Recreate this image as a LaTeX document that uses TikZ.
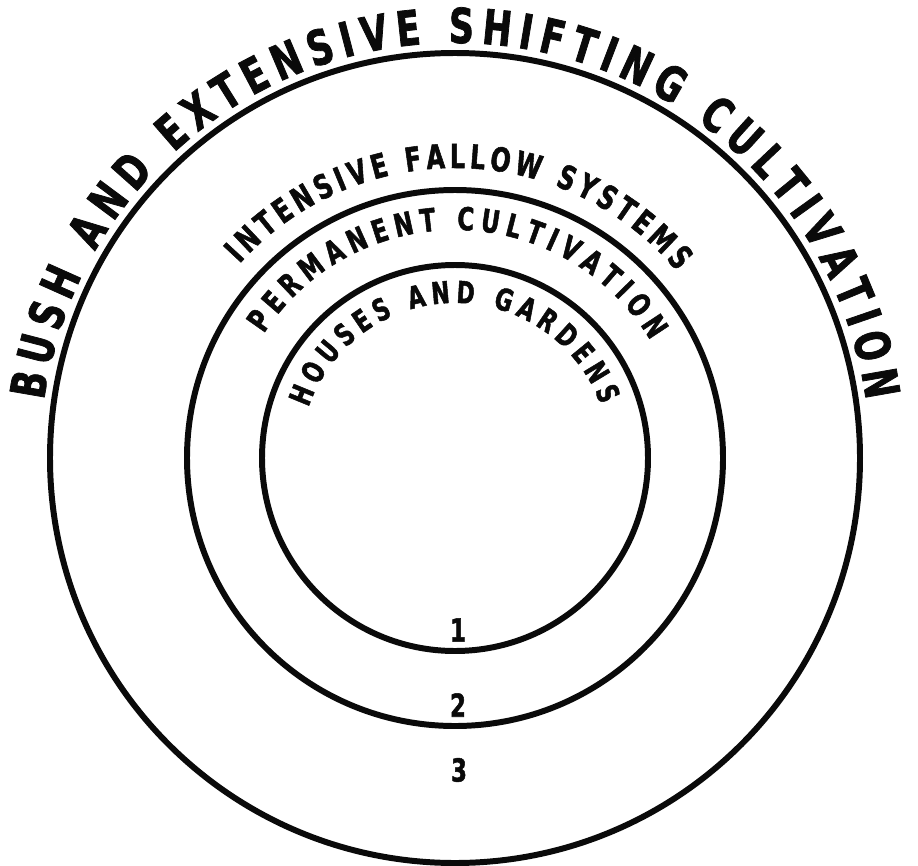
\documentclass[tikz,border=0pt]{standalone}
\usepackage{fontspec}
\newfontfamily\letterfont[FakeStretch=0.72, FakeBold=1.6]{DejaVu Sans Bold}
\usetikzlibrary{decorations.text}

% lettering sizes, cap heights
\newcommand\outerface{\letterfont\fontsize{13.7pt}{14pt}\selectfont}
\newcommand\fallowface{\letterfont\fontsize{9.4pt}{10pt}\selectfont}
\newcommand\permface{\letterfont\fontsize{9pt}{10pt}\selectfont}
\newcommand\houseface{\letterfont\fontsize{8.6pt}{9pt}\selectfont}

\begin{document}
\begin{tikzpicture}[
    every node/.style={font=\letterfont},
]

% ---------------------------------------------------------------- colours
\definecolor{ink}{HTML}{0A0A0A}   % all lines and lettering

% ---------------------------------------------------------------- styles
\tikzset{
    ring/.style={draw=ink, line width=1.7pt},
    ringtext/.style={
        decorate,
        decoration={text along path, text={#1}, text color=ink,
                    text align=fit to path},
    },
    zonenum/.style={
        font=\letterfont\fontsize{9pt}{9pt}\selectfont,
        text=ink, inner sep=0pt,
    },
}

% ================================================================
% GEOMETRY
%   centre          (4.55, 4.07)
%   rings           r = 1.93 / 2.68 / 4.05
%   text baselines  r = 1.55 (inside 1), 2.28 (inside 2),
%                   2.90 (outside 2), 4.15 (outside 3)
%   zone numbers    on the vertical through the centre
% ================================================================

\useasboundingbox (0, 0) rectangle (9.18, 8.65);
\coordinate (c) at (4.55, 4.07);

% ---------------------------------------------------------------- the rings
\draw[ring] (c) circle[radius=1.93];
\draw[ring] (c) circle[radius=2.68];
\draw[ring] (c) circle[radius=4.05];

% ---------------------------------------------------------------- lettering
% paths run clockwise, so the letters stand on the outer side
\path[ringtext={|\outerface|BUSH AND EXTENSIVE SHIFTING CULTIVATION}]
    ([shift={(172:4.15)}]c) arc[start angle=172, end angle=8, radius=4.15];

\path[ringtext={|\fallowface|INTENSIVE FALLOW SYSTEMS}]
    ([shift={(138:2.90)}]c) arc[start angle=138, end angle=40, radius=2.90];

\path[ringtext={|\permface|PERMANENT CULTIVATION}]
    ([shift={(147:2.28)}]c) arc[start angle=147, end angle=31, radius=2.28];

\path[ringtext={|\houseface|HOUSES AND GARDENS}]
    ([shift={(161:1.55)}]c) arc[start angle=161, end angle=20, radius=1.55];

% ---------------------------------------------------------------- zone numbers
\node[zonenum] (n1) at (4.58, 2.35) {1};
\node[zonenum] (n2) at (4.58, 1.60) {2};
\node[zonenum] (n3) at (4.59, 0.95) {3};

\end{tikzpicture}
\end{document}
